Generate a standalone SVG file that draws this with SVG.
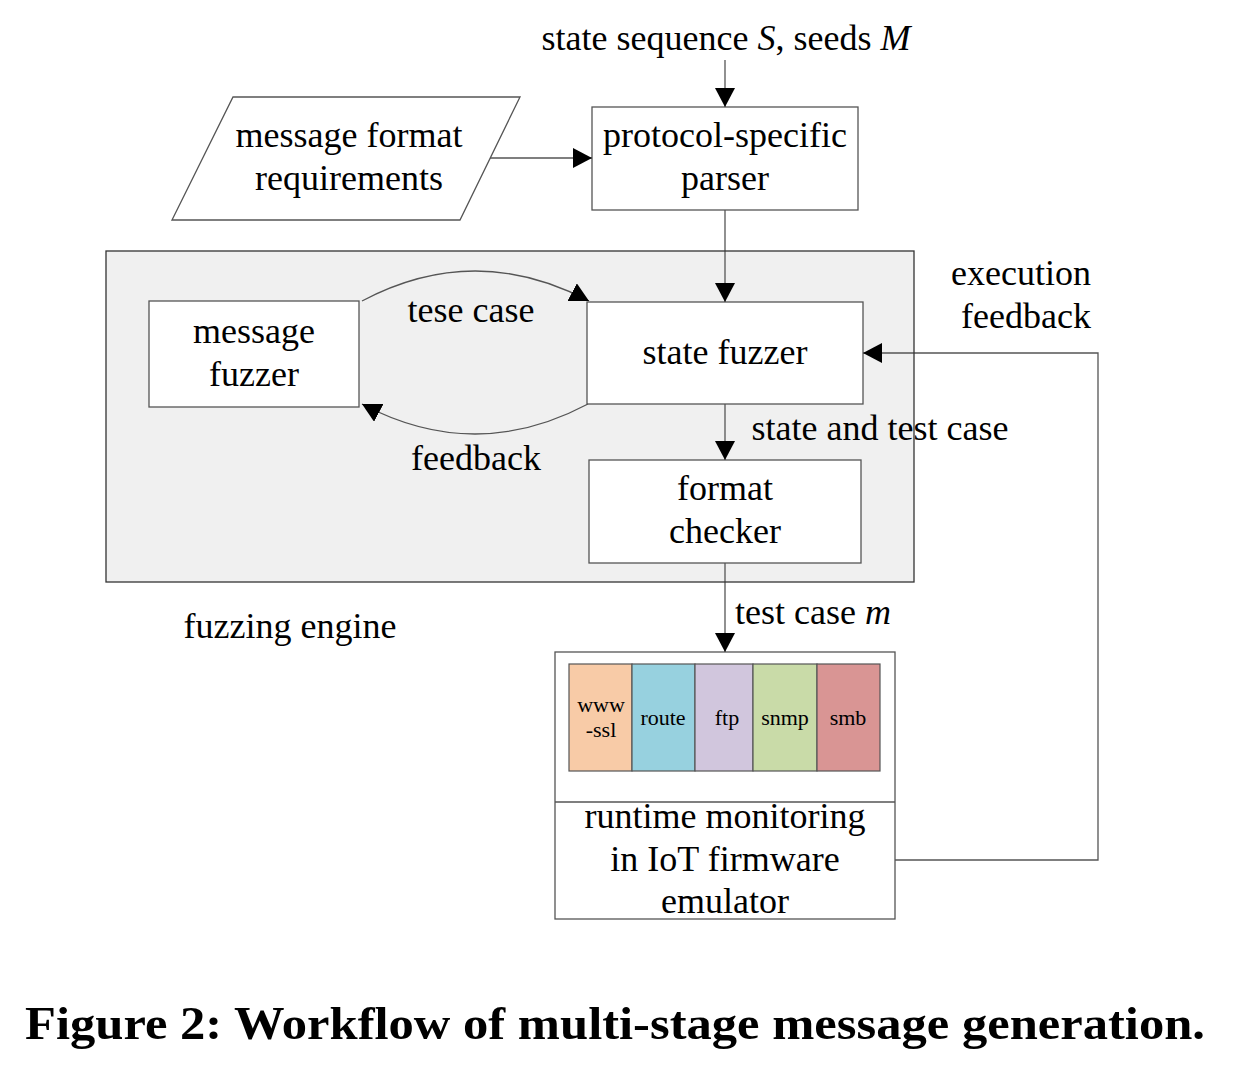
<svg xmlns="http://www.w3.org/2000/svg" width="1251" height="1068" viewBox="0 0 1251 1068">
<defs>
<marker id="ah" markerUnits="userSpaceOnUse" markerWidth="20" markerHeight="20" refX="19" refY="10" orient="auto">
<path d="M0,0 L19,10 L0,20 Z" fill="#000"/>
</marker>
<style>
.t{font-family:"Liberation Serif","Times New Roman",serif;font-size:36px;fill:#000;text-anchor:middle}
.s{font-family:"Liberation Serif","Times New Roman",serif;font-size:22px;fill:#000;text-anchor:middle}
.box{fill:#fff;stroke:#555;stroke-width:1.3}
.ln{fill:none;stroke:#555;stroke-width:1.3}
.cap{font-family:"Liberation Serif","Times New Roman",serif;font-size:46px;font-weight:bold;fill:#000}
</style>
</defs>
<rect width="1251" height="1068" fill="#fff"/>

<g id="fuzzing-engine">
<rect x="106" y="251" width="808" height="331" fill="#f0f0f0"/>
<text class="t" x="290" y="638">fuzzing engine</text>
</g>

<g id="input-label">
<text class="t" x="726" y="50">state sequence <tspan font-style="italic">S</tspan>, seeds <tspan font-style="italic">M</tspan></text>
</g>

<g id="message-format-requirements">
<polygon class="box" points="233,97 520,97 460,220 172,220"/>
<text class="t" x="349" y="147">message format</text>
<text class="t" x="349" y="190">requirements</text>
</g>

<g id="protocol-specific-parser">
<rect class="box" x="592" y="107" width="266" height="103"/>
<text class="t" x="725" y="147">protocol-specific</text>
<text class="t" x="725" y="190">parser</text>
</g>

<g id="message-fuzzer">
<rect class="box" x="149" y="301" width="210" height="106"/>
<text class="t" x="254" y="343">message</text>
<text class="t" x="254" y="386">fuzzer</text>
</g>

<g id="state-fuzzer">
<rect class="box" x="587" y="302" width="276" height="102"/>
<text class="t" x="725" y="364">state fuzzer</text>
</g>

<g id="format-checker">
<rect class="box" x="589" y="460" width="272" height="103"/>
<text class="t" x="725" y="500">format</text>
<text class="t" x="725" y="543">checker</text>
</g>

<g id="emulator">
<rect class="box" x="555" y="652" width="340" height="267"/>
<line class="ln" x1="555" y1="802" x2="895" y2="802"/>
<rect x="569" y="664" width="63" height="107" fill="#f8cba7" stroke="#555" stroke-width="1.2"/>
<rect x="632" y="664" width="63" height="107" fill="#97d1df" stroke="#555" stroke-width="1.2"/>
<rect x="695" y="664" width="58" height="107" fill="#d1c6dd" stroke="#555" stroke-width="1.2"/>
<rect x="753" y="664" width="64" height="107" fill="#c9dba8" stroke="#555" stroke-width="1.2"/>
<rect x="817" y="664" width="63" height="107" fill="#d99594" stroke="#555" stroke-width="1.2"/>
<text class="s" x="601" y="712">www</text>
<text class="s" x="601" y="737">-ssl</text>
<text class="s" x="663" y="725">route</text>
<text class="s" x="727" y="725">ftp</text>
<text class="s" x="785" y="725">snmp</text>
<text class="s" x="848" y="725">smb</text>
<text class="t" x="725" y="828">runtime monitoring</text>
<text class="t" x="725" y="871">in IoT firmware</text>
<text class="t" x="725" y="913">emulator</text>
</g>

<g id="connectors">
<line class="ln" x1="725" y1="60" x2="725" y2="107" stroke="#000" marker-end="url(#ah)"/>
<line class="ln" x1="490" y1="158" x2="592" y2="158" marker-end="url(#ah)"/>
<line class="ln" x1="725" y1="210" x2="725" y2="302" marker-end="url(#ah)"/>
<path class="ln" d="M362,301 Q475,241 589,301" stroke="#222" marker-end="url(#ah)"/>
<path class="ln" d="M588,404 Q475,464 362,404" stroke="#222" marker-end="url(#ah)"/>
<line class="ln" x1="725" y1="404" x2="725" y2="460" marker-end="url(#ah)"/>
<line class="ln" x1="725" y1="563" x2="725" y2="652" marker-end="url(#ah)"/>
<polyline class="ln" points="895,860 1098,860 1098,353 863,353" marker-end="url(#ah)"/>
</g>

<g id="labels">
<text class="t" x="471" y="322">tese case</text>
<text class="t" x="476" y="470">feedback</text>
<text class="t" x="880" y="440">state and test case</text>
<text class="t" x="813" y="624">test case <tspan font-style="italic">m</tspan></text>
<text class="t" x="1091" y="285" text-anchor="end" style="text-anchor:end">execution</text>
<text class="t" x="1091" y="328" style="text-anchor:end">feedback</text>
</g>

<rect x="106" y="251" width="808" height="331" fill="none" stroke="#333" stroke-width="1.3"/>

<text class="cap" x="25" y="1039" textLength="1180" lengthAdjust="spacingAndGlyphs">Figure 2: Workflow of multi-stage message generation.</text>
</svg>
